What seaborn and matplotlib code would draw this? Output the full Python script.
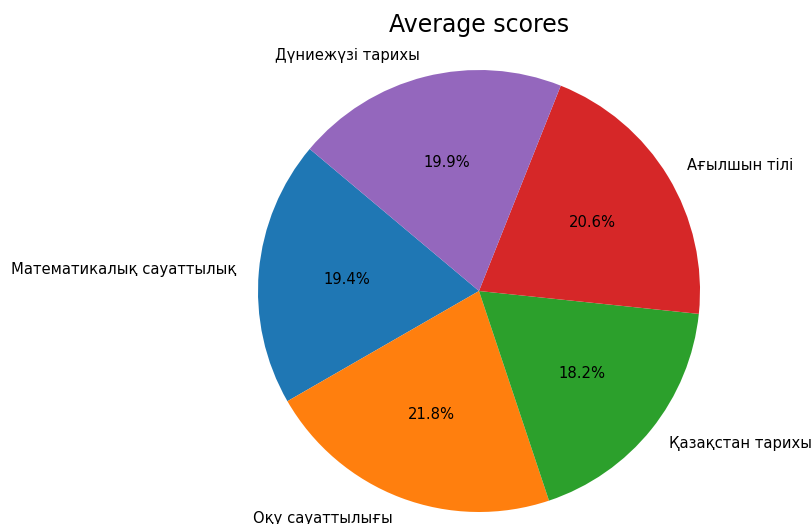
import matplotlib
matplotlib.use("Agg")
import matplotlib.pyplot as plt
import seaborn as sns

subjects = ["Математикалық сауаттылық", "Оқу сауаттылығы", "Қазақстан тарихы",
            "Ағылшын тілі", "Дүниежүзі тарихы"]
shares = [19.4, 21.8, 18.2, 20.6, 19.9]

plt.rcParams["font.family"] = ["DejaVu Sans"]
colors = sns.color_palette("tab10", len(subjects))

fig = plt.figure(figsize=(8.12, 5.24), dpi=100)
W, H = 812, 524
cx, cy, r = 479, 291, 221
side = 2.5 * r
ax = fig.add_axes([(cx - side / 2) / W, (H - cy - side / 2) / H, side / W, side / H])

wedges, texts, autotexts = ax.pie(
    shares, labels=subjects, colors=colors, autopct="%1.1f%%",
    startangle=140, textprops={"fontsize": 10.6, "color": "black"},
)
ax.set_aspect("equal")
fig.text(cx / W, 1 - 25 / H, "Average scores", ha="center", va="center",
         fontsize=17, color="black")

fig.savefig("out.png", dpi=100)
